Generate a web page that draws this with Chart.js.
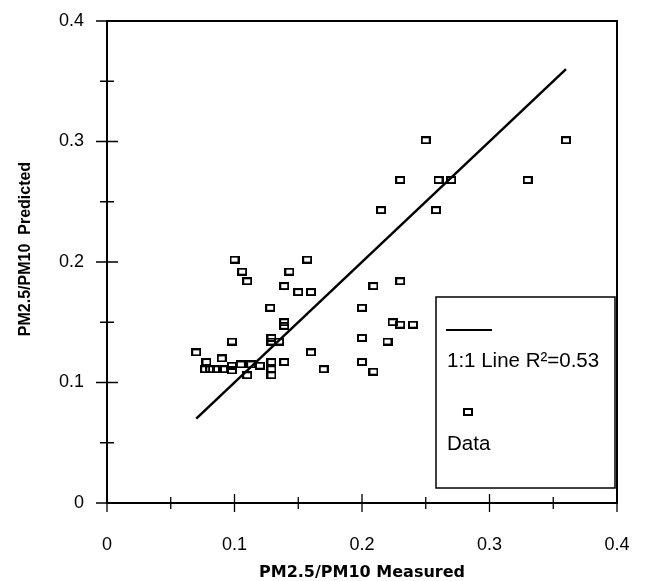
<!DOCTYPE html>
<html>
<head>
<meta charset="utf-8">
<script src="https://cdn.jsdelivr.net/npm/chart.js@4"></script>
<style>
  html, body { margin:0; padding:0; background:#fff; }
  #wrap { width:645px; height:581px; }
</style>
</head>
<body>
<div id="wrap"><canvas id="pmChart" width="645" height="581"></canvas></div>
<script>
// measured vs predicted PM2.5/PM10 ratios
const measured  = [0.070,0.078,0.077,0.081,0.086,0.090,0.091,0.098,0.098,0.098,
                   0.100,0.106,0.110,0.105,0.113,0.120,0.110,0.128,0.129,0.129,
                   0.135,0.129,0.129,0.129,0.139,0.139,0.139,0.139,0.143,0.150,
                   0.157,0.160,0.160,0.170,0.200,0.200,0.200,0.209,0.209,0.215,
                   0.220,0.224,0.230,0.240,0.230,0.230,0.250,0.258,0.260,0.270,
                   0.330,0.360];
const predicted = [0.125,0.117,0.111,0.111,0.111,0.120,0.111,0.114,0.110,0.134,
                   0.202,0.192,0.184,0.115,0.115,0.114,0.106,0.162,0.137,0.134,
                   0.134,0.117,0.111,0.106,0.117,0.150,0.147,0.180,0.192,0.175,
                   0.202,0.175,0.125,0.111,0.162,0.137,0.117,0.180,0.109,0.243,
                   0.134,0.150,0.148,0.148,0.184,0.268,0.301,0.243,0.268,0.268,
                   0.268,0.301];
const lineEnds  = [0.07, 0.36];
const axisMin = 0, axisMax = 0.4, majorStep = 0.1, minorStep = 0.05;
const lineLabel = '1:1 Line R\u00B2=0.53';
const dataLabel = 'Data';
const yTitle = 'PM2.5/PM10  Predicted';

// hollow rectangle marker
const marker = document.createElement('canvas');
marker.width = 10; marker.height = 8;
(function(){
  const c = marker.getContext('2d');
  c.strokeStyle = '#000'; c.lineWidth = 2;
  c.strokeRect(1, 1, 8, 6);
})();

const frameAndTicks = {
  id: 'frameAndTicks',
  afterDraw(chart) {
    const {ctx, chartArea:a, scales:{x, y}} = chart;
    ctx.save();
    ctx.strokeStyle = '#000';
    ctx.lineWidth = 2;
    ctx.beginPath();
    ctx.moveTo(a.left, a.top); ctx.lineTo(a.right, a.top); ctx.lineTo(a.right, a.bottom);
    ctx.stroke();
    ctx.lineWidth = 1.3;
    const n = Math.round((axisMax-axisMin)/minorStep);
    for (let i = 0; i <= n; i++) {
      const v = axisMin + i*minorStep;
      const major = i % 2 === 0;
      const px = x.getPixelForValue(v), py = y.getPixelForValue(v);
      const lx = major ? 9 : 6, ly = major ? 11 : 7;
      ctx.beginPath();
      ctx.moveTo(px, a.bottom-lx); ctx.lineTo(px, a.bottom+lx);
      ctx.moveTo(a.left-ly, py); ctx.lineTo(a.left+ly, py);
      ctx.stroke();
    }
    // y title sits a little above the axis centre in the original
    ctx.translate(26, (a.top+a.bottom)/2 - 13);
    ctx.rotate(-Math.PI/2);
    ctx.fillStyle = '#000';
    ctx.font = 'bold 16px "Liberation Sans", Arial, sans-serif';
    ctx.textAlign = 'center'; ctx.textBaseline = 'middle';
    ctx.fillText(yTitle, 0, 0);
    ctx.restore();
  }
};

const boxLegend = {
  id: 'boxLegend',
  afterDraw(chart) {
    const {ctx, chartArea:a} = chart;
    const R = a.right - 2, B = a.bottom - 15, L = R - 179, T = B - 191;
    ctx.save();
    ctx.fillStyle = '#fff';
    ctx.fillRect(L, T, R-L, B-T);
    ctx.strokeStyle = '#000'; ctx.lineWidth = 1.5;
    ctx.strokeRect(L, T, R-L, B-T);
    ctx.lineWidth = 2;
    ctx.beginPath(); ctx.moveTo(L+10, T+33); ctx.lineTo(L+56, T+33); ctx.stroke();
    ctx.fillStyle = '#000';
    ctx.font = '20.5px "Liberation Sans", Arial, sans-serif';
    ctx.textBaseline = 'alphabetic';
    ctx.fillText(lineLabel, L+11, T+70);
    ctx.drawImage(marker, L+32-5, T+115-4);
    ctx.fillText(dataLabel, L+11, T+153);
    ctx.restore();
  }
};

new Chart(document.getElementById('pmChart'), {
  data: {
    datasets: [
      { type:'line', label:lineLabel,
        data: lineEnds.map(v => ({x:v, y:v})),
        borderColor:'#000', borderWidth:2.5, pointRadius:0, fill:false },
      { type:'scatter', label:dataLabel,
        data: measured.map((m,i) => ({x:m, y:predicted[i]})),
        pointStyle: marker, pointRadius:4 }
    ]
  },
  options: {
    responsive:false, animation:false,
    layout:{ padding:{ top:21, right:28, left:0, bottom:0 } },
    plugins:{ legend:{display:false}, tooltip:{enabled:false} },
    scales:{
      x:{ type:'linear', min:axisMin, max:axisMax,
          afterFit(s){ s.height = 78; s.paddingLeft = 0; s.paddingRight = 0; },
          grid:{display:false}, border:{display:true, color:'#000', width:2},
          ticks:{ stepSize:majorStep, padding:23, color:'#000', maxRotation:0,
                  font:{family:'"Liberation Sans", Arial, sans-serif', size:18} },
          title:{ display:true, text:'PM2.5/PM10 Measured', color:'#000', padding:0,
                  font:{family:'"DejaVu Sans", sans-serif', size:16, weight:'bold', lineHeight:1} } },
      y:{ type:'linear', min:axisMin, max:axisMax,
          afterFit(s){ s.width = 107; s.paddingTop = 0; s.paddingBottom = 0; },
          grid:{display:false}, border:{display:true, color:'#000', width:2},
          ticks:{ stepSize:majorStep, padding:15, color:'#000',
                  font:{family:'"Liberation Sans", Arial, sans-serif', size:18} },
          title:{ display:false } }
    }
  },
  plugins:[frameAndTicks, boxLegend]
});
</script>
</body>
</html>
